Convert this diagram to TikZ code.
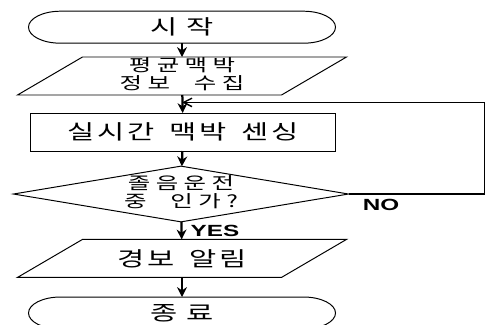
\documentclass[tikz,border=0pt]{standalone}
\usepackage{graphicx}
\usepackage{fontspec}
\newfontfamily\kr[LetterSpace=10,WordSpace=1.5]{Noto Sans CJK KR}
\newfontfamily\krsmall[LetterSpace=22,WordSpace=2.2]{Noto Sans CJK KR}
\newfontfamily\krwide[LetterSpace=30]{Noto Sans CJK KR}
\newfontfamily\lab[FakeStretch=1.5]{Liberation Sans}
\usetikzlibrary{
    shapes.geometric,
    arrows.meta,
    positioning,
    calc
}
% wide letters
\newcommand{\wide}[1]{\scalebox{1.45}[1]{#1}}
% start / end outline with elliptic ends
\newcommand{\terminal}[1]{%
    \draw[line width=0.7pt] ([xshift=0.8cm]#1.north west) -- ([xshift=-0.8cm]#1.north east)
        arc[start angle=90, end angle=-90, x radius=0.8cm, y radius=0.4cm]
        -- ([xshift=0.8cm]#1.south west)
        arc[start angle=270, end angle=90, x radius=0.8cm, y radius=0.4cm] -- cycle;}
% slanted in/out box
\newcommand{\slanted}[1]{%
    \draw[line width=0.7pt] ([xshift=-0.8125cm]#1.south west) -- ([xshift=-0.8125cm]#1.south east)
        -- ([xshift=0.8125cm]#1.north east) -- ([xshift=0.8125cm]#1.north west) -- cycle;}

\begin{document}
\begin{tikzpicture}[
        term/.style={minimum width=7.675cm, minimum height=0.8cm, inner sep=0pt, outer sep=0pt, font=\krwide\fontsize{14.5}{16}\selectfont},
        io/.style={minimum width=6.6cm, minimum height=0.95cm, inner sep=0pt, outer sep=0pt},
        proc/.style={draw, line width=0.7pt, minimum width=7.625cm, minimum height=0.95cm, inner sep=0pt, outer sep=0pt, font=\kr\fontsize{14.5}{16}\selectfont},
        decide/.style={draw, line width=0.7pt, diamond, aspect=6, minimum width=8.375cm, minimum height=1.3cm, inner sep=0pt, outer sep=0pt, font=\krsmall\fontsize{12}{10.5}\selectfont},
        arrow/.style={-{Stealth[length=7pt, width=7pt]}, line width=1.6pt},
        back/.style={-{Straight Barb[length=6pt, width=6pt]}, line width=1pt},
        tag/.style={font=\lab\bfseries\fontsize{11.5}{12}\selectfont, inner sep=0pt}
    ]
        \useasboundingbox (0,0) rectangle (12.125,-8.1);
        \clip (0,0) rectangle (12.125,-8.1);

        % Start
        \node[term] (start) at (4.55, -0.68) {\wide{시작}};
        \terminal{start}

        % Average pulse
        \node[io, font=\krsmall\fontsize{12}{10.5}\selectfont] (collect) at (4.55, -1.9)
            {\wide{\begin{tabular}{@{}c@{}}평균맥박\\정보 수집\end{tabular}}};
        \slanted{collect}

        % Sensing
        \node[proc] (sense) at (4.575, -3.3) {\wide{실시간 맥박 센싱}};
        \draw[line width=1.4pt] (sense.north west) -- (sense.south west);
        \draw[line width=1.4pt] (sense.north east) -- (sense.south east);

        % Drowsy?
        \node[decide] (drowsy) at (4.525, -4.85)
            {\wide{\begin{tabular}{@{}c@{}}졸음운전\\중 인가?\end{tabular}}};

        % Alarm
        \node[io, font=\kr\fontsize{14.5}{16}\selectfont] (alarm) at (4.55, -6.46) {\wide{경보 알림}};
        \slanted{alarm}

        % End
        \node[term] (finish) at (4.55, -7.825) {\wide{종료}};
        \terminal{finish}

        % Arrows
        \coordinate (join) at (4.55, -2.56);
        \coordinate (turn) at (12.11, -2.56);
        \draw[arrow] (start) -- (collect);
        \draw[arrow] (collect) -- (sense);
        \draw[arrow] (sense) -- (drowsy);
        \draw[arrow] (drowsy) -- (alarm) node[midway, right=0.2cm, tag] {YES};
        \draw[arrow] (alarm) -- (finish);
        \draw[back] (drowsy.east) -| node[pos=0.12, below=0.1cm, tag] {NO} (turn) -- (join);
    \end{tikzpicture}
\end{document}
